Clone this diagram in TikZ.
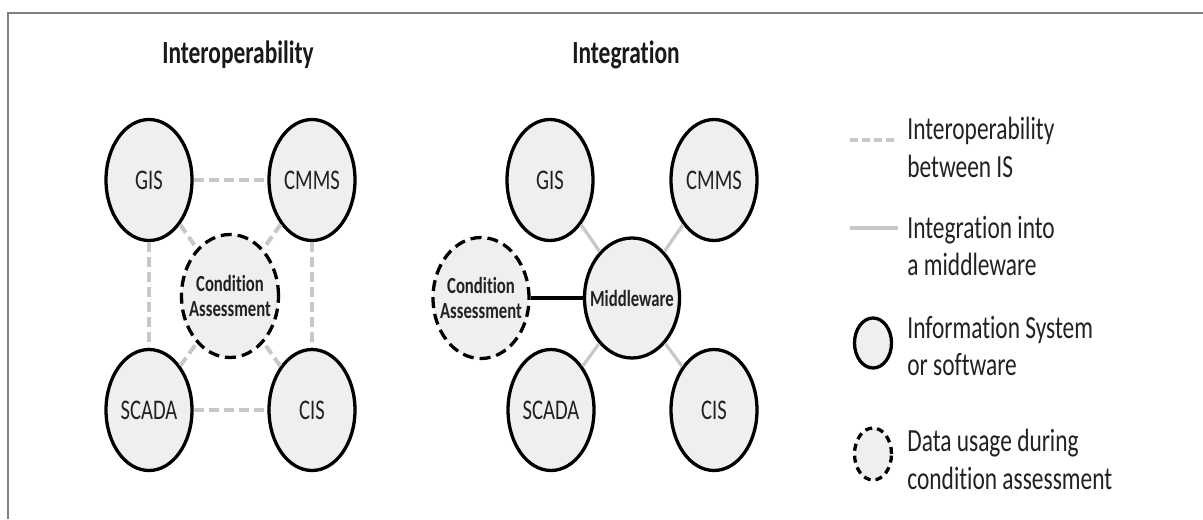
\documentclass[tikz,border=0pt]{standalone}
\usepackage{fontspec}
\setmainfont{Carlito}[Ligatures=NoCommon]
\usetikzlibrary{shapes.geometric}
\definecolor{isfill}{HTML}{EFEFEF}
\definecolor{linkgray}{HTML}{C8C8C8}
\definecolor{framegray}{HTML}{808080}
\definecolor{txt}{HTML}{222222}

\begin{document}
\begin{tikzpicture}[x=0.5pt,y=-0.5pt,
  sysnode/.style={ellipse, draw=black, line width=1.65pt, fill=isfill,
    minimum width=43pt, minimum height=60.5pt, inner sep=0pt},
  datanode/.style={sysnode, dash pattern=on 5.5pt off 3pt},
  syslabel/.style={text=txt, font=\fontsize{10.3}{12}\selectfont, yscale=1.38, inner sep=0pt},
  boldlabel/.style={text=txt, font=\bfseries\fontsize{8.35}{9.4}\selectfont, align=center,
    yscale=1.38, inner sep=0pt},
  heading/.style={text=black!90, font=\bfseries\fontsize{11.7}{14}\selectfont, yscale=1.38, inner sep=0pt},
  legtext/.style={text=txt, font=\fontsize{11.7}{13.75}\selectfont, align=left, anchor=west,
    yscale=1.38, inner sep=0pt},
  interop/.style={draw=linkgray, line width=2pt, dash pattern=on 5pt off 2.5pt},
  integ/.style={draw=linkgray, line width=1.6pt},
  direct/.style={draw=black, line width=1.6pt}]

\useasboundingbox (0,0) rectangle (1203,519);
\fill[white] (0,0) rectangle (1203,519);

% frame
\coordinate (fbl) at (8,519);
\coordinate (ftl) at (8,13);
\coordinate (ftr) at (1203,13);
\draw[framegray, line width=1pt] (fbl) -- (ftl) -- (ftr);

% headings
\node[heading] (hint) at (238,55) {Interoperability};
\node[heading] (hin) at (626,55) {Integration};

% ---------- interoperability ----------
\node[sysnode] (lgis) at (149,180) {};
\node[sysnode] (lcmms) at (312,180) {};
\node[sysnode] (lscada) at (149,410) {};
\node[sysnode] (lcis) at (312,410) {};
\node[datanode, minimum width=48.5pt, minimum height=61.5pt] (lca) at (230,296) {};

\draw[interop] (lgis) -- (lcmms);
\draw[interop] (lgis) -- (lscada);
\draw[interop] (lcmms) -- (lcis);
\draw[interop] (lscada) -- (lcis);
\draw[interop] (lgis) -- (lca);
\draw[interop] (lcmms) -- (lca);
\draw[interop] (lscada) -- (lca);
\draw[interop] (lcis) -- (lca);

\node[syslabel] (lgist) at (lgis) {GIS};
\node[syslabel] (lcmmst) at (lcmms) {CMMS};
\node[syslabel] (lscadat) at (lscada) {SCADA};
\node[syslabel] (lcist) at (lcis) {CIS};
\node[boldlabel] (lcat) at (lca) {Condition\\Assessment};

% ---------- integration ----------
\node[sysnode] (rgis) at (550,180) {};
\node[sysnode] (rcmms) at (714,180) {};
\node[sysnode] (rscada) at (551,410) {};
\node[sysnode] (rcis) at (714,410) {};
\node[sysnode, minimum width=47.5pt, minimum height=60pt] (rmw) at (632,298) {};
\node[datanode, minimum width=48pt, minimum height=60.5pt] (rca) at (481,298) {};

\draw[integ] (rgis) -- (rmw);
\draw[integ] (rcmms) -- (rmw);
\draw[integ] (rscada) -- (rmw);
\draw[integ] (rcis) -- (rmw);
\draw[direct] (rca) -- (rmw);

\node[syslabel] (rgist) at (rgis) {GIS};
\node[syslabel] (rcmmst) at (rcmms) {CMMS};
\node[syslabel] (rscadat) at (rscada) {SCADA};
\node[syslabel] (rcist) at (rcis) {CIS};
\node[boldlabel] (rmwt) at (rmw) {Middleware};
\node[boldlabel] (rcat) at (rca) {Condition\\Assessment};

% ---------- legend ----------
\coordinate (k1a) at (850,140);
\coordinate (k1b) at (898,140);
\draw[interop, dash pattern=on 4pt off 2pt] (k1a) -- (k1b);
\node[legtext] (k1t) at (907,147) {Interoperability\\between IS};

\coordinate (k2a) at (850,228);
\coordinate (k2b) at (898,228);
\draw[integ] (k2a) -- (k2b);
\node[legtext] (k2t) at (907,246) {Integration into\\a middleware};

\node[sysnode, minimum width=18.5pt, minimum height=25pt] (k3) at (873,343) {};
\node[legtext] (k3t) at (907,346) {Information System\\or software};

\node[sysnode, dash pattern=on 3.5pt off 2.5pt, minimum width=18.5pt, minimum height=26pt] (k4) at (873,454) {};
\node[legtext] (k4t) at (907,459) {Data usage during\\condition assessment};

\end{tikzpicture}
\end{document}
